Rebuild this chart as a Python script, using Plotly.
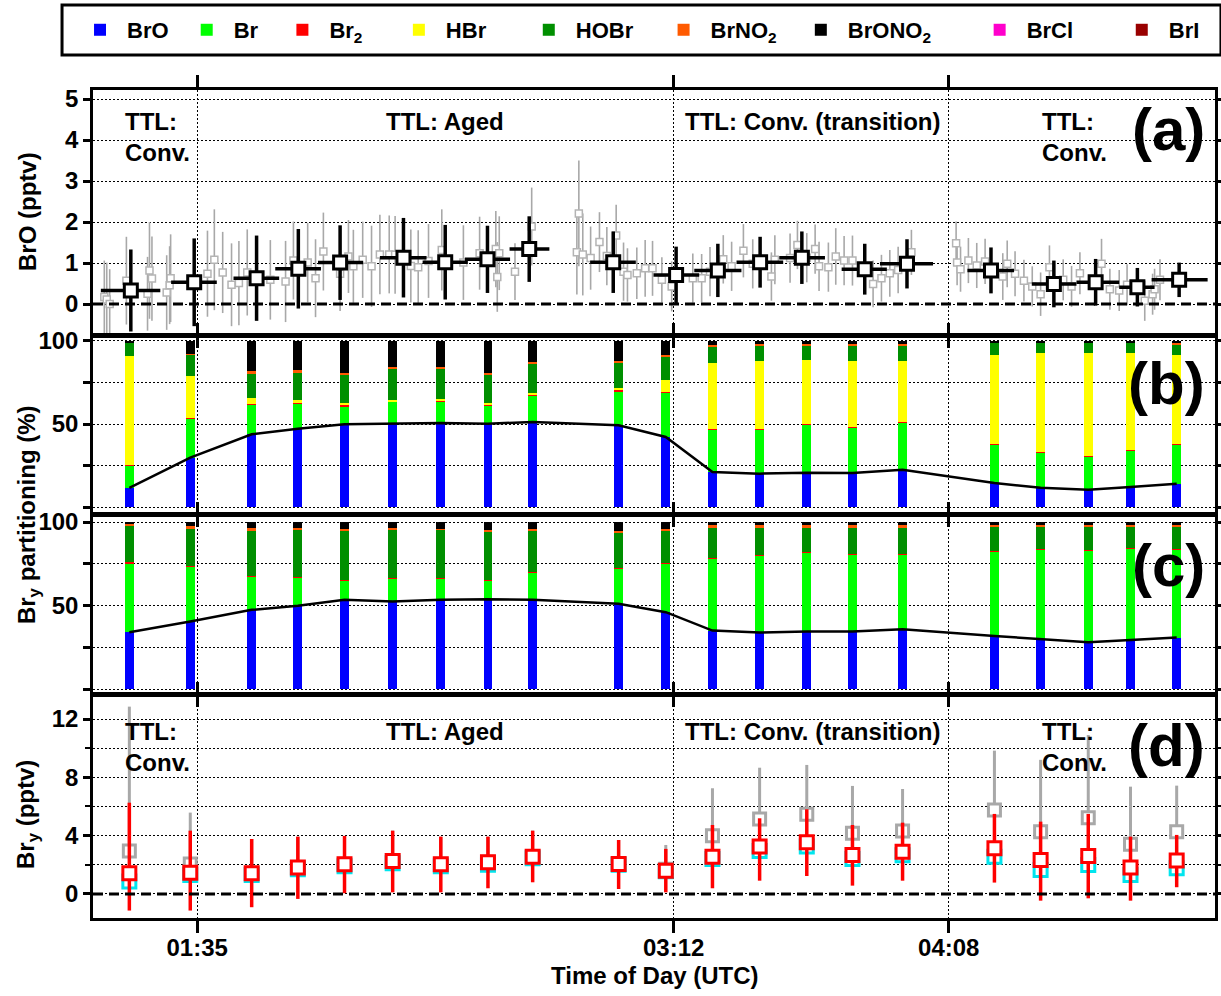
import plotly.graph_objects as go
from plotly.subplots import make_subplots

# ---------------- data ----------------
# times in minutes after 00:00 UTC
tick_vals = [95, 192, 248]
tick_text = ["01:35", "03:12", "04:08"]

# panel (a): individual BrO retrievals (gray)
gray_time = [76.1, 76.6, 77.2, 80.6, 84.9, 85.3, 85.8, 88.8, 89.4, 89.6, 97.1, 98.5, 100.2, 102.0,
             103.5, 105.2, 109.9, 113.0, 114.6, 117.5, 119.1, 120.7, 124.1, 125.8, 126.8, 128.7,
             130.5, 132.2, 134.1, 135.3, 138.5, 140.0, 142.1, 144.8, 149.2,
             152.5, 155.8, 156.1, 156.5, 159.7, 163.1, 172.3, 172.7, 173.5, 175.1, 176.9, 178.4,
             180.3, 181.8, 182.6, 184.5, 186.2, 187.7, 189.6, 191.6, 195.9, 197.7, 199.4, 202.1,
             203.8, 206.2, 208.1, 211.9, 212.6, 215.7, 217.2, 219.1, 220.8, 221.6, 223.5, 225.0,
             226.7, 228.4, 232.6, 234.3, 236.0, 237.7, 240.4, 249.5, 249.7, 250.4, 252.0, 253.7,
             255.4, 259.0, 259.9, 261.5, 263.3, 265.0, 266.7, 268.5, 271.3, 273.0, 274.7, 279.1,
             280.8, 282.7, 284.3, 287.9, 289.5, 289.9, 291.0]
gray_bro = [0.17, 0.11, 0.0, 0.57, 0.25, 0.82, 0.62, 0.28, 0.46, 0.63, 0.74, 1.08, 0.77, 0.47,
            0.51, 0.77, 0.59, 0.55, 1.06, 1.01, 0.63, 1.28, 0.74, 1.16, 0.92, 1.08,
            0.92, 1.21, 1.21, 1.20, 0.93, 0.90, 1.05, 1.32, 1.01,
            1.24, 1.34, 0.66, 1.24, 0.79, 1.89, 1.26, 2.21, 1.21, 1.12, 1.51, 1.17,
            1.67, 0.79, 0.71, 0.75, 0.87, 0.87, 0.59, 0.43, 0.63, 0.63, 0.79, 1.09,
            0.92, 1.30, 0.98, 0.67, 1.08, 1.12, 1.44, 1.13, 1.34, 0.92, 0.90, 1.16,
            1.06, 1.06, 0.49, 0.63, 0.75, 0.83, 1.26, 1.48, 1.01, 0.85, 1.06, 0.94,
            1.04, 0.67, 0.98, 0.74, 0.57, 0.43, 0.24, 0.90, 0.59, 0.43, 0.75, 0.98,
            0.36, 0.33, 0.47, 0.08, 0.24, 0.36, 0.59]
gray_err = [0.89, 0.90, 0.85, 1.07, 0.90, 1.18, 1.03, 0.91, 0.95, 1.07, 1.05, 1.23, 0.99, 1.01,
            1.03, 1.05, 0.97, 0.99, 0.95, 0.97, 0.95, 0.95, 0.91, 0.89, 0.89, 0.93,
            0.99, 0.97, 0.95, 0.95, 0.89, 0.90, 0.90, 0.99, 0.91,
            0.89, 0.93, 0.85, 0.90, 0.69, 0.95, 1.03, 1.29, 1.00, 0.77, 0.73, 0.71,
            0.75, 0.71, 0.65, 0.63, 0.69, 0.67, 0.55, 0.61, 0.60, 0.59, 0.60, 0.59,
            0.60, 0.65, 0.60, 0.59, 0.60, 0.60, 0.59, 0.60, 0.60, 0.60, 0.60, 0.69,
            0.60, 0.61, 0.57, 0.57, 0.57, 0.57, 0.55, 0.53, 0.55, 0.55, 0.55, 0.55,
            0.55, 0.57, 0.57, 0.55, 0.51, 0.49, 0.53, 0.53, 0.50, 0.50, 0.51, 0.61,
            0.50, 0.50, 0.50, 0.49, 0.50, 0.50, 0.50]

# panel (a): binned BrO (black)
bin_time = [81.5, 94.4, 107.1, 115.6, 124.1, 137.0, 145.5, 154.1, 162.6, 179.7, 192.5,
            201.0, 209.6, 218.1, 230.9, 239.5, 256.6, 269.4, 277.9, 286.4, 294.9]
bin_dt_lo = [6.1, 4.7, 4.7, 4.7, 4.5, 4.8, 4.6, 4.6, 4.0, 4.7, 4.6,
             4.8, 4.8, 4.6, 4.7, 5.5, 4.8, 4.5, 3.9, 3.7, 5.6]
bin_dt_hi = [6.0, 4.6, 4.6, 4.6, 4.7, 4.7, 4.6, 4.6, 4.1, 4.6, 4.7,
             4.8, 4.7, 4.7, 4.5, 5.3, 4.7, 4.6, 4.8, 3.5, 5.8]
bin_bro = [0.33, 0.53, 0.63, 0.86, 1.01, 1.13, 1.02, 1.09, 1.34, 1.02, 0.71,
           0.82, 1.02, 1.13, 0.85, 0.98, 0.82, 0.49, 0.53, 0.41, 0.59]
bin_err = [1.00, 1.07, 1.04, 0.97, 0.91, 0.97, 0.91, 0.82, 0.80, 0.75, 0.69,
           0.65, 0.62, 0.64, 0.62, 0.60, 0.56, 0.57, 0.57, 0.47, 0.42]

# panels (b)-(d): model times
model_time = [81.2, 93.6, 106.1, 115.5, 125.0, 134.8, 144.6, 154.2, 163.3, 180.8, 190.4,
              199.9, 209.5, 219.1, 228.4, 238.6, 257.3, 266.7, 276.4, 285.0, 294.4]

species = ["BrO", "Br", "Br<sub>2</sub>", "HBr", "HOBr", "BrNO<sub>2</sub>",
           "BrONO<sub>2</sub>", "BrCl", "BrI"]
legend_pad = [1, 2, 4, 5, 3, 2, 6, 6, 1]   # non-breaking spaces after each legend label
colors = ["#0000FF", "#00FF00", "#FF0000", "#FFFF00", "#008F00", "#FF5A00",
          "#000000", "#FF00CC", "#990000"]

# panel (b) partitioning (%)
b_BrO = [11.5, 29.8, 43.8, 47.2, 49.8, 50.2, 50.6, 50.2, 51.2, 49.2, 42.2,
         21.1, 20.1, 20.7, 20.5, 22.5, 14.5, 11.6, 10.4, 12.0, 14.1]
b_Br = [13.6, 23.4, 18.0, 15.0, 11.0, 13.1, 13.1, 11.0, 15.7, 20.5, 26.5,
        25.7, 26.5, 29.1, 27.3, 28.7, 23.3, 21.1, 20.1, 22.1, 23.7]
b_Br2 = [0.3, 0.3, 0.5, 0.4, 0.5, 0.4, 0.4, 0.4, 0.5, 0.6, 0.5,
         0.3, 0.3, 0.3, 0.3, 0.3, 0.2, 0.2, 0.2, 0.2, 0.2]
b_HBr = [65.4, 25.4, 3.4, 2.1, 1.6, 0.8, 0.8, 1.1, 1.3, 1.6, 7.5,
         39.6, 40.9, 38.7, 39.9, 36.3, 53.4, 59.9, 62.3, 58.5, 53.8]
b_HOBr = [8.0, 12.9, 15.0, 16.6, 17.0, 18.8, 18.8, 17.0, 17.6, 15.0, 14.1,
          10.1, 9.6, 8.6, 9.4, 9.6, 7.4, 6.0, 5.8, 6.0, 6.2]
b_BrNO2 = [0.3, 0.6, 1.2, 1.0, 0.8, 0.8, 0.8, 0.8, 0.8, 1.1, 1.0,
           0.8, 0.6, 0.6, 0.6, 0.6, 0.4, 0.4, 0.4, 0.4, 0.6]
b_BrONO2 = [0.9, 7.6, 18.1, 17.7, 19.3, 15.9, 15.5, 19.5, 12.9, 12.0, 8.2,
            2.4, 2.0, 2.0, 2.0, 2.0, 0.8, 0.8, 0.8, 0.8, 1.4]
b_BrCl = [0.0] * 21
b_BrI = [0.0] * 21

# panel (c) partitioning (%)
c_BrO = [34.0, 40.4, 47.4, 49.8, 53.4, 52.4, 53.4, 53.8, 53.4, 51.0, 46.0,
         35.0, 33.8, 34.4, 34.4, 35.8, 31.8, 29.8, 28.0, 29.4, 30.8]
c_Br = [41.4, 33.0, 20.0, 17.0, 11.6, 13.6, 13.0, 11.0, 16.4, 21.4, 29.4,
        43.4, 46.0, 47.4, 46.4, 45.0, 50.6, 53.6, 55.0, 55.0, 53.0]
c_Br2 = [0.6, 0.3, 0.3, 0.3, 0.3, 0.3, 0.3, 0.3, 0.3, 0.3, 0.3,
         0.3, 0.3, 0.3, 0.3, 0.3, 0.3, 0.3, 0.3, 0.3, 0.3]
c_HBr = [0.0] * 21
c_HOBr = [22.0, 22.3, 27.1, 28.3, 29.5, 29.5, 28.7, 29.5, 24.9, 21.3, 19.3,
          18.3, 16.9, 14.9, 15.9, 15.9, 14.7, 13.7, 14.1, 12.7, 13.3]
c_BrNO2 = [0.8, 1.8, 1.6, 1.2, 1.2, 0.8, 0.6, 0.8, 0.8, 0.8, 1.0,
           1.0, 1.0, 1.0, 1.0, 1.0, 0.8, 0.8, 0.8, 0.8, 0.8]
c_BrONO2 = [1.2, 2.2, 3.6, 3.4, 4.0, 3.4, 4.0, 4.6, 4.2, 5.2, 4.0,
            2.0, 2.0, 2.0, 2.0, 2.0, 1.8, 1.8, 1.8, 1.8, 1.8]
c_BrCl = [0.0] * 21
c_BrI = [0.0] * 21

# panel (d) Bry (pptv)
bry_gray = [2.95, 2.06, 1.42, 1.81, 2.03, 2.26, 2.03, 2.17, 2.56, 2.06, 1.70,
            4.00, 5.14, 5.46, 4.16, 4.32, 5.76, 4.27, 5.23, 3.41, 4.27]
bry_gray_hi = [9.90, 3.52, 2.35, 2.12, 1.95, 2.08, 1.90, 1.76, 1.78, 1.64, 1.66,
               3.25, 3.52, 3.39, 3.25, 2.88, 4.07, 4.93, 5.67, 3.95, 3.16]
bry_cyan = [0.85, 1.30, 1.30, 1.70, 1.90, 2.10, 1.90, 2.00, 2.45, 2.00, 1.55,
            2.40, 2.95, 3.25, 2.40, 2.65, 2.56, 1.65, 1.99, 1.30, 1.76]
bry_red = [1.42, 1.46, 1.42, 1.81, 2.03, 2.26, 2.03, 2.17, 2.56, 2.06, 1.60,
           2.56, 3.25, 3.54, 2.67, 2.90, 3.13, 2.33, 2.61, 1.81, 2.29]
bry_red_hi = [4.84, 2.88, 2.35, 2.12, 1.95, 2.08, 1.90, 1.76, 1.78, 1.64, 1.49,
              2.17, 1.94, 2.27, 2.06, 1.99, 2.36, 2.63, 2.88, 2.12, 1.76]
bry_red_lo = [2.56, 2.60, 2.33, 2.15, 1.98, 2.15, 1.92, 1.78, 1.76, 1.72, 1.49,
              2.17, 2.34, 2.31, 2.10, 1.99, 2.35, 2.79, 2.91, 2.27, 1.83]

b_sets = [b_BrO, b_Br, b_Br2, b_HBr, b_HOBr, b_BrNO2, b_BrONO2, b_BrCl, b_BrI]
c_sets = [c_BrO, c_Br, c_Br2, c_HBr, c_HOBr, c_BrNO2, c_BrONO2, c_BrCl, c_BrI]

# ---------------- figure ----------------
FONT = "Arial, Liberation Sans, sans-serif"
fig = make_subplots(rows=4, cols=1, shared_xaxes=True)

# (a)
fig.add_trace(go.Scatter(
    x=gray_time, y=gray_bro, mode="markers", showlegend=False,
    marker=dict(symbol="square", size=7, color="white", line=dict(color="#b4b4b4", width=1.5)),
    error_y=dict(type="data", array=gray_err, color="#a8a8a8", thickness=1.6, width=0)),
    row=1, col=1)
fig.add_trace(go.Scatter(
    x=bin_time, y=bin_bro, mode="markers", showlegend=False,
    marker=dict(symbol="square", size=13, color="white", line=dict(color="black", width=3)),
    error_y=dict(type="data", array=bin_err, color="black", thickness=3.5, width=0),
    error_x=dict(type="data", symmetric=False, array=bin_dt_hi, arrayminus=bin_dt_lo,
                 color="black", thickness=3.5, width=0)),
    row=1, col=1)

# (b) and (c)
for row, sets in ((2, b_sets), (3, c_sets)):
    for name, pad, col, vals in zip(species, legend_pad, colors, sets):
        fig.add_trace(go.Bar(
            x=model_time, y=vals, width=1.8, name=name + "\u00a0" * pad, legendgroup=name,
            showlegend=(row == 2), marker=dict(color=col, line=dict(width=0))),
            row=row, col=1)
    fig.add_trace(go.Scatter(
        x=model_time, y=sets[0], mode="lines", showlegend=False,
        line=dict(color="black", width=2.5)), row=row, col=1)

# (d)
fig.add_trace(go.Scatter(
    x=model_time, y=bry_gray, mode="markers", showlegend=False,
    marker=dict(symbol="square", size=12, color="white", line=dict(color="#a8a8a8", width=3)),
    error_y=dict(type="data", symmetric=False, array=bry_gray_hi, arrayminus=[0] * 21,
                 color="#a8a8a8", thickness=3, width=0)),
    row=4, col=1)
fig.add_trace(go.Scatter(
    x=model_time, y=bry_cyan, mode="markers", showlegend=False,
    marker=dict(symbol="square", size=13, color="white", line=dict(color="#00E5EE", width=3))),
    row=4, col=1)
fig.add_trace(go.Scatter(
    x=model_time, y=bry_red, mode="markers", showlegend=False,
    marker=dict(symbol="square", size=13, color="white", line=dict(color="#FF0000", width=3)),
    error_y=dict(type="data", symmetric=False, array=bry_red_hi, arrayminus=bry_red_lo,
                 color="#FF0000", thickness=3.5, width=0)),
    row=4, col=1)

# ---------------- axes ----------------
domains = [[0.7065, 1.0], [0.4903, 0.7005], [0.2729, 0.4843], [0.0, 0.2669]]
yranges = [[-0.707, 5.22], [-3.0, 101.8], [-1.8, 103.0], [-1.65, 13.51]]
grid = dict(showgrid=True, gridcolor="black", gridwidth=1.3, griddash="2px,2px")
axline = dict(showline=True, linecolor="black", linewidth=2.5, mirror="ticks",
              ticks="outside", tickcolor="black", tickwidth=2.5, zeroline=False)
tickfont = dict(family=FONT, size=24, color="black", weight="bold")

for i in range(4):
    xa = "xaxis" if i == 0 else f"xaxis{i+1}"
    ya = "yaxis" if i == 0 else f"yaxis{i+1}"
    fig.layout[xa].update(range=[73.8, 302.2], tickvals=tick_vals, ticktext=tick_text,
                          ticklen=12, tickfont=tickfont, **grid, **axline)
    fig.layout[ya].update(domain=domains[i], range=yranges[i], ticklen=7,
                          tickfont=tickfont, **grid, **axline)

fig.layout.xaxis4.update(ticklabelstandoff=-6)
fig.layout.yaxis.update(tickvals=[0, 1, 2, 3, 4, 5])
for ya in ("yaxis2", "yaxis3"):
    fig.layout[ya].update(tickvals=[50, 100],
                          minor=dict(tickvals=[0, 25, 75], showgrid=True, gridcolor="black",
                                     gridwidth=1.3, griddash="2px,2px", ticks="outside",
                                     ticklen=7, tickcolor="black", tickwidth=2.5))
fig.layout.yaxis4.update(tick0=0, dtick=4,
                         minor=dict(dtick=2, tick0=0, showgrid=True, gridcolor="black",
                                    gridwidth=1.1, griddash="2px,2px", ticks="outside",
                                    ticklen=5, tickcolor="black", tickwidth=2))

# dashed zero lines
for r in (1, 4):
    fig.add_hline(y=0, line=dict(color="black", width=3, dash="10px,6px"), row=r, col=1)

# legend frame
fig.add_shape(type="rect", xref="paper", yref="paper", x0=-0.0276, x1=1.0053,
              y0=1.0423, y1=1.1027, line=dict(color="black", width=3), fillcolor="white",
              layer="below")

# ---------------- text ----------------
def note(text, x, y, xanchor="left", yanchor="top", size=24, **kw):
    fig.add_annotation(text=text, x=x, y=y, xref="paper", yref="paper",
                       xanchor=xanchor, yanchor=yanchor, showarrow=False, align="left",
                       font=dict(family=FONT, size=size, color="black", weight="bold"), **kw)

for ytop in (0.9807, 0.2440):
    note("TTL:<br>Conv.", 0.0267, ytop)
    note("TTL: Aged", 0.3137, ytop, xanchor="center")
    note("TTL: Conv. (transition)", 0.5258, ytop)
    note("TTL:<br>Conv.", 0.844, ytop)

for lab, yc in (("(a)", 0.9517), ("(b)", 0.6461), ("(c)", 0.4263), ("(d)", 0.2089)):
    note(lab, 0.993, yc, xanchor="right", yanchor="middle", size=60)

note("BrO (pptv)", -0.0579, 0.8527, xanchor="center", yanchor="middle", textangle=-90)
note("Br<sub>y</sub> partitioning (%)", -0.0579, 0.4867, xanchor="center", yanchor="middle",
     textangle=-90)
note("Br<sub>y</sub> (pptv)", -0.0579, 0.1244, xanchor="center", yanchor="middle", textangle=-90)
note("Time of Day (UTC)", 0.5009, -0.0700, xanchor="center", yanchor="middle")

fig.update_layout(
    width=1221, height=996,
    margin=dict(l=93, r=6, t=90, b=78, autoexpand=False),
    paper_bgcolor="white", plot_bgcolor="white",
    barmode="stack", bargap=0,
    font=dict(family=FONT, color="black"),
    legend=dict(orientation="h", x=-0.0178, y=1.0725, xanchor="left", yanchor="middle",
                borderwidth=0, bgcolor="rgba(0,0,0,0)", itemwidth=44,
                font=dict(family=FONT, size=22, color="black", weight="bold"),
                traceorder="normal"),
)

fig.write_html("out.html")
